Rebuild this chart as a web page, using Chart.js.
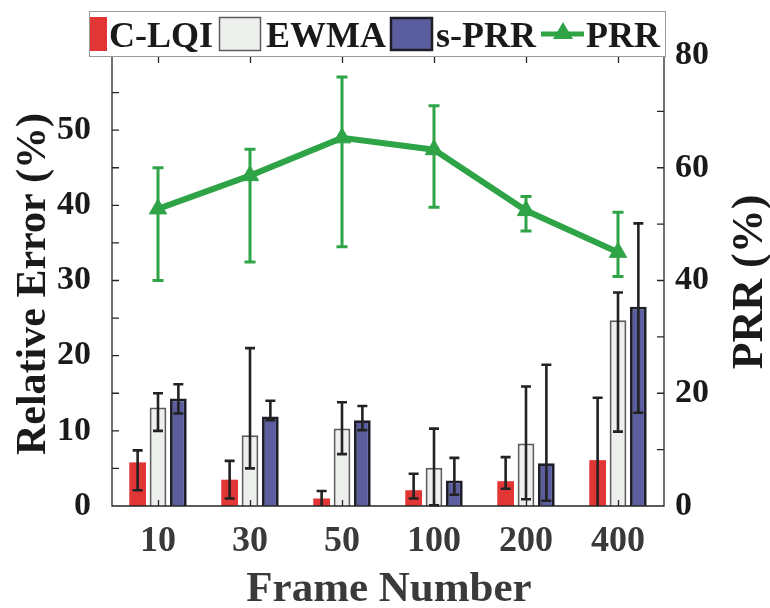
<!DOCTYPE html>
<html>
<head>
<meta charset="utf-8">
<script src="https://cdn.jsdelivr.net/npm/chart.js@4/dist/chart.umd.min.js"></script>
<style>
  html, body { margin: 0; padding: 0; background: #fff; }
  #wrap { width: 770px; height: 608px; }
</style>
</head>
<body>
<div id="wrap"><canvas id="c" width="770" height="608"></canvas></div>
<script>
// Frame number categories
const frameNumbers = ['10', '30', '50', '100', '200', '400'];

// Relative error (%) per estimator: mean, lower and upper error-bar ends
const cLqi     = [5.8, 3.5, 1.0, 2.1, 3.3, 6.1];
const cLqiLow  = [2.1, 1.0, 0.0, 1.0, 2.3, 0.0];
const cLqiHigh = [7.4, 6.0, 2.0, 4.3, 6.5, 14.4];

const ewma     = [13.1, 9.4, 10.3, 5.1, 8.3, 24.7];
const ewmaLow  = [10.0, 5.0, 6.9, 0.1, 0.9, 9.9];
const ewmaHigh = [15.0, 21.0, 13.8, 10.3, 15.9, 28.4];

const sPrr     = [14.3, 11.9, 11.4, 3.4, 5.7, 26.5];
const sPrrLow  = [12.3, 11.4, 10.1, 1.5, 0.7, 12.4];
const sPrrHigh = [16.2, 14.0, 13.3, 6.4, 18.8, 37.6];

// Packet reception ratio (%) on the right axis
const prr     = [52.7, 58.6, 65.3, 63.2, 52.4, 45.0];
const prrLow  = [40.0, 43.3, 46.0, 53.0, 48.8, 40.7];
const prrHigh = [60.0, 63.3, 76.1, 71.0, 54.9, 52.1];

// Axis ranges and tick steps
const errorAxis = { min: 0, max: 60, step: 5, labelEvery: 10, hideAbove: 50 };
const prrAxis   = { min: 0, max: 80, step: 10, labelEvery: 20 };

const FONT = '"Liberation Serif", "Times New Roman", serif';
const AXIS_COLOR = '#262626';
const GREEN = '#2EA447';

// Draws the vertical error bars stored on each dataset
const errorBarPlugin = {
  id: 'errorBars',
  afterDatasetsDraw(chart) {
    const ctx = chart.ctx;
    chart.data.datasets.forEach((ds, i) => {
      if (!ds.errLow) return;
      const meta = chart.getDatasetMeta(i);
      const scale = chart.scales[meta.yAxisID];
      ctx.save();
      ctx.strokeStyle = ds.errColor;
      ctx.lineWidth = ds.errWidth;
      ctx.lineCap = 'butt';
      meta.data.forEach((el, j) => {
        const x = el.x;
        const yl = scale.getPixelForValue(ds.errLow[j]);
        const yh = scale.getPixelForValue(ds.errHigh[j]);
        ctx.beginPath();
        ctx.moveTo(x, yl); ctx.lineTo(x, yh);
        ctx.moveTo(x - ds.capHalf, yh); ctx.lineTo(x + ds.capHalf, yh);
        if (ds.errLow[j] > scale.min) {
          ctx.moveTo(x - ds.capHalf, yl); ctx.lineTo(x + ds.capHalf, yl);
        }
        ctx.stroke();
      });
      ctx.restore();
    });
  }
};

// Axis box, inward tick marks, axis titles and the legend
const framePlugin = {
  id: 'frame',
  afterDraw(chart) {
    const ctx = chart.ctx;
    const a = chart.chartArea;
    const xs = chart.scales.x, yl = chart.scales.y, yr = chart.scales.y1;
    ctx.save();
    ctx.strokeStyle = AXIS_COLOR;
    ctx.lineWidth = 1.3;
    ctx.beginPath();
    ctx.moveTo(a.left, a.top); ctx.lineTo(a.left, a.bottom);
    ctx.lineTo(a.right, a.bottom); ctx.lineTo(a.right, a.top);
    ctx.lineTo(a.left, a.top);
    // category ticks at bottom and top
    for (let i = 0; i < frameNumbers.length; i++) {
      const x = Math.round(xs.getPixelForValue(i)) + 0.5;
      ctx.moveTo(x, a.bottom); ctx.lineTo(x, a.bottom - 6);
      ctx.moveTo(x, a.top); ctx.lineTo(x, a.top + 8);
    }
    // left axis ticks
    for (let v = errorAxis.min; v <= errorAxis.max; v += errorAxis.step) {
      const y = yl.getPixelForValue(v);
      ctx.moveTo(a.left, y); ctx.lineTo(a.left + 7, y);
    }
    // right axis ticks
    for (let v = prrAxis.min; v <= prrAxis.max; v += prrAxis.step) {
      const y = yr.getPixelForValue(v);
      ctx.moveTo(a.right, y); ctx.lineTo(a.right - 7, y);
    }
    ctx.stroke();

    // axis titles
    ctx.fillStyle = '#1a1a1a';
    ctx.font = 'bold 42px ' + FONT;
    ctx.textAlign = 'center';
    ctx.textBaseline = 'alphabetic';
    ctx.save();
    ctx.translate(45, 284);
    ctx.rotate(-Math.PI / 2);
    ctx.fillText('Relative Error (%)', 0, 0);
    ctx.restore();
    ctx.save();
    ctx.font = 'bold 44px ' + FONT;
    ctx.translate(762, 282);
    ctx.rotate(-Math.PI / 2);
    ctx.fillText('PRR (%)', 0, 0);
    ctx.restore();
    ctx.fillStyle = '#3a3a3a';
    ctx.font = 'bold 43px ' + FONT;
    ctx.fillText('Frame Number', 389, 601);

    // legend
    const ds = chart.data.datasets;
    ctx.fillStyle = '#ffffff';
    ctx.fillRect(89, 11, 577, 45);
    ctx.strokeStyle = '#9a9a9a';
    ctx.lineWidth = 1;
    ctx.strokeRect(89.5, 11.5, 576, 45);

    const sy = 17, sh = 34;
    ctx.fillStyle = ds[0].backgroundColor;
    ctx.fillRect(90, sy, 17, sh);
    ctx.fillStyle = ds[1].backgroundColor;
    ctx.fillRect(219, sy, 42, sh);
    ctx.strokeStyle = ds[1].borderColor; ctx.lineWidth = 1.5;
    ctx.strokeRect(219.5, sy + 0.5, 41, sh - 1);
    ctx.fillStyle = ds[2].backgroundColor;
    ctx.fillRect(390, sy, 43, sh);
    ctx.strokeStyle = ds[2].borderColor; ctx.lineWidth = 2.5;
    ctx.strokeRect(391, sy + 1, 41, sh - 2);
    // line + triangle sample
    ctx.strokeStyle = GREEN; ctx.lineWidth = 5;
    ctx.beginPath(); ctx.moveTo(541, 34); ctx.lineTo(584, 34); ctx.stroke();
    ctx.fillStyle = GREEN;
    ctx.beginPath(); ctx.moveTo(563, 22); ctx.lineTo(573, 39); ctx.lineTo(553, 39); ctx.closePath(); ctx.fill();

    ctx.fillStyle = '#1a1a1a';
    ctx.font = 'bold 36px ' + FONT;
    ctx.textAlign = 'left';
    ctx.textBaseline = 'alphabetic';
    ctx.fillText(ds[0].label, 109, 47);
    ctx.fillText(ds[1].label, 266, 47);
    ctx.fillText(ds[2].label, 436, 47);
    ctx.fillText(ds[3].label, 586, 47);
    ctx.restore();
  }
};

const yTickFont = { family: FONT, size: 34, weight: 'bold' };
const xTickFont = { family: FONT, size: 36, weight: 'bold' };

new Chart(document.getElementById('c'), {
  data: {
    labels: frameNumbers,
    datasets: [
      { type: 'bar', label: 'C-LQI', data: cLqi, yAxisID: 'y', order: 1,
        backgroundColor: '#E23636', borderWidth: 0,
        errLow: cLqiLow, errHigh: cLqiHigh, errColor: '#222', errWidth: 2.6, capHalf: 5 },
      { type: 'bar', label: 'EWMA', data: ewma, yAxisID: 'y', order: 1,
        backgroundColor: '#EEF0EE', borderColor: '#5c5c5c', borderWidth: 2,
        errLow: ewmaLow, errHigh: ewmaHigh, errColor: '#222', errWidth: 2.6, capHalf: 5 },
      { type: 'bar', label: 's-PRR', data: sPrr, yAxisID: 'y', order: 1,
        backgroundColor: '#5B5E9E', borderColor: '#1e1e28', borderWidth: 2.8,
        errLow: sPrrLow, errHigh: sPrrHigh, errColor: '#222', errWidth: 2.6, capHalf: 5 },
      { type: 'line', label: 'PRR', data: prr, yAxisID: 'y1', order: 0,
        borderColor: GREEN, backgroundColor: GREEN, borderWidth: 6,
        pointStyle: 'triangle', pointRadius: 10, pointBackgroundColor: GREEN,
        pointBorderColor: GREEN, pointBorderWidth: 1, tension: 0,
        errLow: prrLow, errHigh: prrHigh, errColor: GREEN, errWidth: 3, capHalf: 5.5 }
    ]
  },
  options: {
    responsive: false,
    animation: false,
    devicePixelRatio: 1,
    layout: { padding: { top: 55, left: 0, right: 0, bottom: 0 } },
    datasets: { bar: { categoryPercentage: 0.664, barPercentage: 0.82 } },
    plugins: { legend: { display: false }, tooltip: { enabled: false } },
    scales: {
      x: {
        type: 'category', offset: true,
        grid: { display: false, drawTicks: false }, border: { display: false },
        ticks: { font: xTickFont, color: '#3a3a3a', padding: 14, maxRotation: 0, autoSkip: false },
        afterFit(s) { s.height = 102; }
      },
      y: {
        type: 'linear', position: 'left', min: errorAxis.min, max: errorAxis.max,
        grid: { display: false, drawTicks: false }, border: { display: false },
        ticks: {
          stepSize: errorAxis.step, font: yTickFont, color: '#1a1a1a', padding: 21, autoSkip: false,
          callback: v => (v % errorAxis.labelEvery === 0 && v <= errorAxis.hideAbove) ? String(v) : ''
        },
        afterFit(s) { s.width = 112; }
      },
      y1: {
        type: 'linear', position: 'right', min: prrAxis.min, max: prrAxis.max,
        grid: { display: false, drawTicks: false }, border: { display: false },
        ticks: {
          stepSize: prrAxis.step, font: yTickFont, color: '#1a1a1a', padding: 11, autoSkip: false,
          callback: v => (v % prrAxis.labelEvery === 0) ? String(v) : ''
        },
        afterFit(s) { s.width = 106; }
      }
    }
  },
  plugins: [errorBarPlugin, framePlugin]
});
</script>
</body>
</html>
